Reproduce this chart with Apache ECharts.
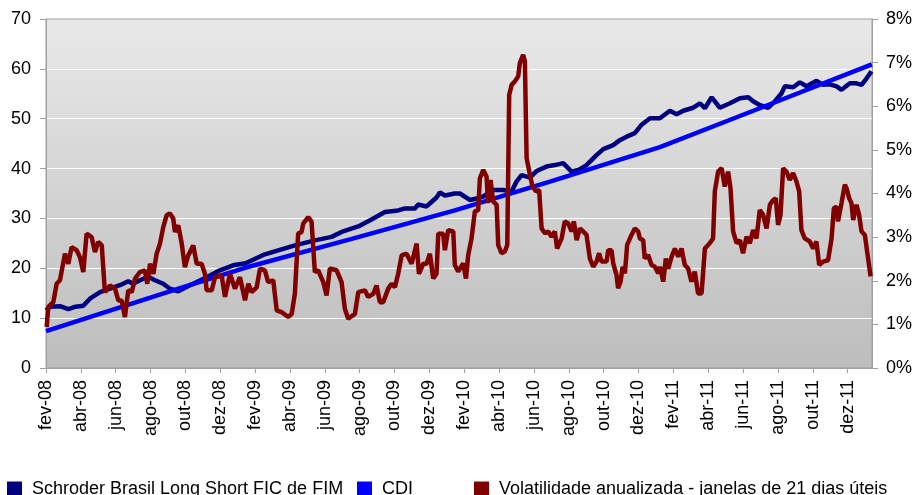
<!DOCTYPE html>
<html>
<head>
<meta charset="utf-8">
<script src="https://cdn.jsdelivr.net/npm/echarts@6/dist/echarts.min.js"></script>
<style>
  html, body { margin: 0; padding: 0; background: #fff; }
  #chart { width: 917px; height: 495px; }
</style>
</head>
<body>
<div id="chart"></div>
<script>
// x = months since fev-08
const monthLabels = ['fev-08', 'abr-08', 'jun-08', 'ago-08', 'out-08', 'dez-08',
  'fev-09', 'abr-09', 'jun-09', 'ago-09', 'out-09', 'dez-09',
  'fev-10', 'abr-10', 'jun-10', 'ago-10', 'out-10', 'dez-10',
  'fev-11', 'abr-11', 'jun-11', 'ago-11', 'out-11', 'dez-11'];

const schroder = [
  [0, 11.6], [0.25, 12.3], [0.8, 12.4], [1.28, 11.8], [1.7, 12.3], [2.14, 12.5], [2.52, 13.9],
  [3.1, 15.2], [3.67, 15.9], [4.24, 16.6], [4.72, 17.4], [5.0, 16.9], [5.39, 17.6], [5.87, 18.3],
  [6.25, 17.6], [6.73, 16.9], [7.11, 15.9], [7.59, 15.4], [8.26, 16.6], [9.22, 18.2], [9.98, 19.6],
  [10.74, 20.6], [11.45, 21.0], [12.56, 22.8], [14.28, 24.6], [15.43, 25.6], [16.39, 26.3],
  [16.96, 27.3], [17.92, 28.4], [18.68, 29.8], [19.45, 31.3], [20.21, 31.6], [20.6, 32.0],
  [21.17, 32.0], [21.36, 32.8], [21.84, 32.4], [22.12, 33.3], [22.41, 34.2], [22.6, 35.2],
  [22.89, 34.6], [23.46, 35.0], [23.75, 35.0], [24.32, 33.7], [24.71, 34.0], [25.09, 34.4],
  [25.66, 35.7], [26.24, 35.7], [26.72, 35.4], [27.0, 37.4], [27.29, 38.7], [27.77, 38.2],
  [28.15, 39.5], [28.72, 40.4], [29.2, 40.7], [29.68, 41.1], [30.16, 39.4], [30.54, 39.7],
  [31.02, 40.7], [31.59, 42.7], [31.98, 43.9], [32.55, 44.7], [32.93, 45.7], [33.32, 46.4],
  [33.79, 47.1], [34.18, 48.8], [34.66, 50.1], [35.23, 50.1], [35.8, 51.6], [36.19, 50.9],
  [36.57, 51.6], [37.14, 52.2], [37.53, 53.1], [37.81, 52.1], [38.2, 54.3], [38.67, 52.2],
  [39.25, 53.1], [39.82, 54.1], [40.3, 54.3], [40.58, 53.5], [40.97, 52.7], [41.45, 52.2],
  [41.83, 53.5], [42.21, 55.1], [42.4, 56.5], [42.88, 56.3], [43.26, 57.3], [43.65, 56.5],
  [44.22, 57.6], [44.6, 56.8], [44.98, 56.9], [45.37, 56.5], [45.65, 55.8], [46.13, 57.1],
  [46.51, 57.1], [46.8, 56.8], [47.09, 58.1], [47.37, 59.5]
];

const cdi = [
  [0, 7.4], [7.69, 16.0], [11.42, 20.1], [17.44, 25.8], [23.46, 31.6], [28.92, 37.4],
  [35.23, 44.3], [40.96, 52.1], [47.39, 60.9]
];

// volatilidade em %
const volatilidade = [
  [0.04, 0.94], [0.13, 1.40], [0.42, 1.51], [0.61, 1.93], [0.8, 2.01], [1.09, 2.62], [1.28, 2.39],
  [1.47, 2.77], [1.76, 2.70], [1.95, 2.54], [2.14, 2.20], [2.33, 3.08], [2.62, 3.00], [2.81, 2.66],
  [3.0, 2.89], [3.2, 2.81], [3.38, 1.74], [3.67, 1.89], [3.96, 1.82], [4.15, 1.55], [4.34, 1.55],
  [4.53, 1.17], [4.72, 1.78], [4.92, 1.74], [5.11, 2.05], [5.39, 2.20], [5.68, 2.24], [5.81, 1.93],
  [5.97, 2.39], [6.16, 2.16], [6.35, 2.62], [6.54, 2.85], [6.73, 3.23], [6.92, 3.50], [7.11, 3.54],
  [7.3, 3.43], [7.4, 3.12], [7.59, 3.27], [7.79, 2.85], [7.97, 2.31], [8.16, 2.58], [8.45, 2.81],
  [8.65, 2.39], [8.93, 2.39], [9.12, 2.16], [9.22, 1.78], [9.51, 1.78], [9.7, 2.08], [10.08, 2.12],
  [10.27, 1.63], [10.56, 2.16], [10.84, 1.82], [11.13, 2.08], [11.42, 1.55], [11.61, 1.93],
  [11.8, 1.74], [12.09, 1.85], [12.28, 2.28], [12.56, 2.24], [12.75, 1.97], [13.04, 2.01],
  [13.24, 1.32], [13.52, 1.28], [13.9, 1.17], [14.1, 1.24], [14.28, 1.70], [14.47, 3.08],
  [14.67, 3.12], [14.76, 3.31], [15.05, 3.46], [15.24, 3.35], [15.43, 2.20], [15.62, 2.24],
  [15.91, 1.97], [16.1, 1.66], [16.29, 2.28], [16.68, 2.24], [16.96, 1.97], [17.15, 1.36],
  [17.34, 1.13], [17.73, 1.24], [17.92, 1.74], [18.3, 1.78], [18.49, 1.63], [18.78, 1.70],
  [18.97, 1.89], [19.16, 1.51], [19.35, 1.51], [19.64, 1.82], [19.83, 1.93], [20.02, 1.85],
  [20.21, 2.16], [20.41, 2.58], [20.69, 2.62], [20.98, 2.39], [21.27, 2.85], [21.4, 2.16],
  [21.65, 2.39], [21.84, 2.39], [22.03, 2.62], [22.22, 2.05], [22.41, 2.16], [22.51, 3.08],
  [22.79, 3.08], [22.89, 2.70], [23.08, 3.16], [23.37, 3.13], [23.46, 2.36], [23.65, 2.21],
  [23.94, 2.40], [24.1, 2.05], [24.23, 2.59], [24.42, 2.97], [24.61, 3.59], [24.8, 3.62],
  [24.9, 4.35], [25.09, 4.54], [25.28, 4.39], [25.37, 3.78], [25.51, 4.31], [25.66, 3.82],
  [25.86, 3.74], [25.95, 2.82], [26.14, 2.63], [26.33, 2.67], [26.47, 2.82], [26.58, 6.26],
  [26.72, 6.49], [26.91, 6.57], [27.1, 6.69], [27.19, 6.99], [27.38, 7.18], [27.48, 7.03],
  [27.58, 4.81], [27.77, 4.43], [27.92, 4.16], [28.11, 4.05], [28.3, 4.08], [28.44, 3.20],
  [28.63, 3.09], [28.82, 3.13], [29.01, 3.01], [29.2, 3.13], [29.33, 2.74], [29.59, 2.97],
  [29.77, 3.36], [29.96, 3.32], [30.16, 3.13], [30.29, 3.36], [30.45, 2.93], [30.64, 3.20],
  [30.82, 3.13], [31.02, 3.05], [31.21, 2.51], [31.4, 2.32], [31.59, 2.44], [31.74, 2.63],
  [31.88, 2.44], [32.17, 2.44], [32.26, 2.70], [32.45, 2.70], [32.55, 2.40], [32.74, 2.13],
  [32.83, 1.83], [32.97, 1.98], [33.09, 2.32], [33.22, 2.17], [33.35, 2.82], [33.6, 3.05],
  [33.79, 3.20], [33.98, 3.13], [34.08, 2.97], [34.27, 2.93], [34.36, 2.51], [34.55, 2.59],
  [34.75, 2.36], [34.94, 2.32], [35.13, 2.17], [35.23, 2.32], [35.42, 1.98], [35.57, 2.51],
  [35.71, 2.28], [35.9, 2.55], [36.09, 2.74], [36.28, 2.55], [36.47, 2.74], [36.66, 2.36],
  [36.85, 2.28], [37.04, 1.98], [37.23, 2.21], [37.42, 1.71], [37.62, 1.71], [37.81, 2.74],
  [38.09, 2.86], [38.28, 2.97], [38.38, 4.05], [38.57, 4.50], [38.77, 4.58], [38.95, 4.16],
  [39.14, 4.50], [39.28, 4.12], [39.43, 3.13], [39.63, 2.86], [39.82, 2.93], [40.0, 2.63],
  [40.2, 3.01], [40.39, 2.86], [40.58, 3.16], [40.77, 2.97], [40.96, 3.62], [41.15, 3.51],
  [41.35, 3.20], [41.54, 3.74], [41.73, 3.85], [41.88, 3.89], [42.01, 3.28], [42.15, 3.51],
  [42.3, 4.58], [42.49, 4.50], [42.68, 4.31], [42.87, 4.47], [43.07, 4.27], [43.22, 4.05],
  [43.35, 3.16], [43.54, 2.97], [43.83, 2.90], [44.02, 2.74], [44.21, 2.90], [44.37, 2.36],
  [44.59, 2.44], [44.88, 2.47], [45.08, 2.97], [45.21, 3.66], [45.36, 3.70], [45.45, 3.36],
  [45.65, 3.78], [45.84, 4.20], [45.94, 4.12], [46.09, 3.89], [46.22, 3.78], [46.32, 3.39],
  [46.51, 3.74], [46.66, 3.51], [46.8, 3.13], [46.99, 3.05], [47.12, 2.67], [47.32, 2.10]
];

const font = 'Liberation Sans, Arial, sans-serif';
const axisGray = '#a0a0a0';

let chart = echarts.init(document.getElementById('chart'));

let legendBase = {
  top: 480,
  padding: 0,
  icon: 'rect',
  itemWidth: 15,
  itemHeight: 15,
  textStyle: { fontFamily: font, fontSize: 18, color: '#000', padding: [0, 0, 0, 5] }
};

let option = {
  animation: false,
  backgroundColor: '#fff',
  grid: {
    left: 46, right: 45, top: 19, bottom: 127,
    show: true,
    borderColor: axisGray,
    borderWidth: 1,
    backgroundColor: new echarts.graphic.LinearGradient(0, 0, 0, 1, [
      { offset: 0, color: '#e9e9e9' },
      { offset: 1, color: '#bdbdbd' }
    ])
  },
  legend: [
    Object.assign({ left: 7, data: ['Schroder Brasil Long Short FIC de FIM'] }, legendBase),
    Object.assign({ left: 357, data: ['CDI'] }, legendBase),
    Object.assign({ left: 474, data: ['Volatilidade anualizada - janelas de 21 dias úteis'] }, legendBase)
  ],
  xAxis: {
    type: 'value',
    min: 0,
    max: 47.4,
    interval: 2,
    axisLine: { lineStyle: { color: axisGray } },
    axisTick: { length: 5, lineStyle: { color: axisGray } },
    splitLine: { show: false },
    axisLabel: {
      rotate: 90,
      margin: 12,
      fontFamily: font,
      fontSize: 18,
      color: '#000',
      showMaxLabel: false,
      formatter: function (v) {
        let i = v / 2;
        return Number.isInteger(i) && monthLabels[i] ? monthLabels[i] : '';
      }
    }
  },
  yAxis: [
    {
      type: 'value',
      min: 0, max: 70, interval: 10,
      axisLine: { show: true, lineStyle: { color: axisGray } },
      axisTick: { show: true, length: 6, lineStyle: { color: axisGray } },
      splitLine: { show: true, showMinLine: false, showMaxLine: false, lineStyle: { color: '#ffffff', width: 1 } },
      axisLabel: { margin: 15, fontFamily: font, fontSize: 18, color: '#000' }
    },
    {
      type: 'value',
      position: 'right',
      min: 0, max: 8, interval: 1,
      axisLine: { show: true, lineStyle: { color: axisGray } },
      axisTick: { show: true, length: 6, lineStyle: { color: axisGray } },
      splitLine: { show: false },
      axisLabel: { margin: 14, fontFamily: font, fontSize: 18, color: '#000', formatter: '{value}%' }
    }
  ],
  series: [
    {
      name: 'Schroder Brasil Long Short FIC de FIM',
      type: 'line',
      yAxisIndex: 0,
      data: schroder,
      showSymbol: false,
      color: '#000080',
      lineStyle: { width: 4.5, color: '#000080' }
    },
    {
      name: 'CDI',
      type: 'line',
      yAxisIndex: 0,
      data: cdi,
      showSymbol: false,
      color: '#0000ff',
      lineStyle: { width: 4.5, color: '#0000ff' }
    },
    {
      name: 'Volatilidade anualizada - janelas de 21 dias úteis',
      type: 'line',
      yAxisIndex: 1,
      data: volatilidade,
      showSymbol: false,
      color: '#800000',
      lineStyle: { width: 4.5, color: '#800000' }
    }
  ]
};

chart.setOption(option);
window.addEventListener('resize', function () {
  chart.resize();
});
</script>
</body>
</html>
